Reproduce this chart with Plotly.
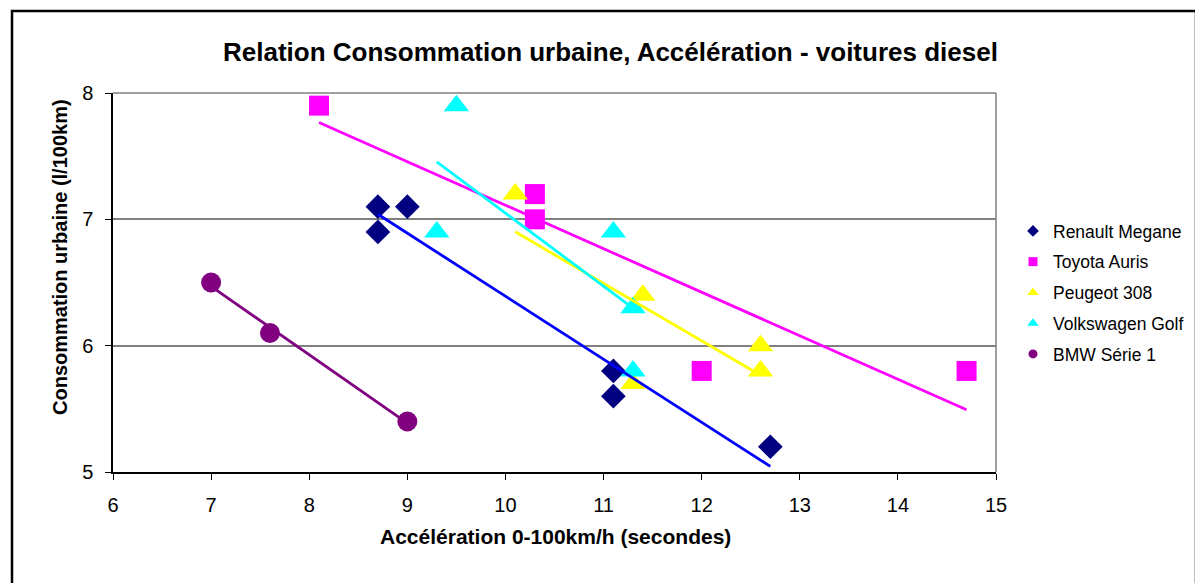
import numpy as np
import plotly.graph_objects as go

# Data
series_names = ["Renault Megane", "Toyota Auris", "Peugeot 308", "Volkswagen Golf", "BMW Série 1"]
renault_x = [8.7, 8.7, 9.0, 11.1, 11.1, 12.7]
renault_y = [7.1, 6.9, 7.1, 5.8, 5.6, 5.2]
toyota_x = [8.1, 10.3, 10.3, 12.0, 14.7]
toyota_y = [7.9, 7.2, 7.0, 5.8, 5.8]
peugeot_x = [10.1, 11.4, 11.3, 12.6, 12.6]
peugeot_y = [7.2, 6.4, 5.7, 6.0, 5.8]
golf_x = [9.5, 9.3, 11.1, 11.3, 11.3]
golf_y = [7.9, 6.9, 6.9, 6.3, 5.8]
bmw_x = [7.0, 7.6, 9.0]
bmw_y = [6.5, 6.1, 5.4]
x_ticks = [6, 7, 8, 9, 10, 11, 12, 13, 14, 15]
y_ticks = [5, 6, 7, 8]

# Styles
marker_colors = ["#000080", "#FF00FF", "#FFFF00", "#00FFFF", "#800080"]
trend_colors = ["#0000FF", "#FF00FF", "#FFFF00", "#00FFFF", "#800080"]
symbols = ["diamond", "square", "triangle-up", "triangle-up", "circle"]
sizes = [19, 20, 22, 22, 20]
legend_sizes = [9, 9, 10, 10, 9]

data = [(renault_x, renault_y), (toyota_x, toyota_y), (peugeot_x, peugeot_y),
        (golf_x, golf_y), (bmw_x, bmw_y)]

FONT = "Arial, Liberation Sans, sans-serif"
fig = go.Figure()

for i, (xs, ys) in enumerate(data):
    fig.add_trace(go.Scatter(
        x=xs, y=ys, mode="markers", name=series_names[i], showlegend=False,
        marker=dict(symbol=symbols[i], size=sizes[i], color=marker_colors[i],
                    line=dict(width=0)),
        cliponaxis=False,
    ))

for i, (xs, ys) in enumerate(data):
    slope, intercept = np.polyfit(xs, ys, 1)
    tx = [min(xs), max(xs)]
    ty = [slope * v + intercept for v in tx]
    fig.add_trace(go.Scatter(
        x=tx, y=ty, mode="lines", showlegend=False, hoverinfo="skip",
        line=dict(color=trend_colors[i], width=2.8),
    ))

for i in range(len(series_names)):
    fig.add_trace(go.Scatter(
        x=[None], y=[None], mode="markers", name=series_names[i],
        legendgroup=f"g{i}",
        marker=dict(symbol=symbols[i], size=legend_sizes[i], color=marker_colors[i],
                    line=dict(width=0)),
    ))

# Page body has an 8px margin: compensate so the plot area lands where intended.
OFF = 8
PL, PT, PR, PB = 113, 93, 996, 472   # absolute plot-area box
W, H = 1203, 583
pw, ph = PR - PL, PB - PT


def px(X):
    return (X - PL) / pw


def py(Y):
    return (PB - Y) / ph


fig.update_layout(
    width=W - OFF, height=H - OFF,
    margin=dict(l=PL - OFF, r=W - PR, t=PT - OFF, b=H - PB, pad=0),
    paper_bgcolor="white", plot_bgcolor="white",
    font=dict(family=FONT, color="black", size=18),
    xaxis=dict(range=[6, 15], tickvals=x_ticks, ticks="outside", ticklen=6, tickcolor="black",
               showline=True, linecolor="black", linewidth=1.5, mirror=False,
               showgrid=False, zeroline=False, ticklabelstandoff=8,
               tickfont=dict(size=20, family=FONT, color="black")),
    yaxis=dict(range=[5, 8], tickvals=y_ticks, ticks="outside", ticklen=6, tickcolor="black",
               showline=True, linecolor="black", linewidth=1.5,
               showgrid=True, gridcolor="#808080", gridwidth=1.5, zeroline=False,
               ticklabelstandoff=8, tickfont=dict(size=20, family=FONT, color="black")),
    legend=dict(x=px(1013), xanchor="left", y=py(213), yanchor="top",
                font=dict(size=17.5, family=FONT), bgcolor="rgba(0,0,0,0)",
                itemwidth=30, tracegroupgap=5),
    annotations=[
        dict(text="<b>Relation Consommation urbaine, Accélération - voitures diesel</b>",
             xref="paper", yref="paper", x=px(610), y=py(52), xanchor="center",
             yanchor="middle", showarrow=False, font=dict(size=26, family=FONT)),
        dict(text="<b>Accélération 0-100km/h (secondes)</b>",
             xref="paper", yref="paper", x=px(555), y=py(536), xanchor="center",
             yanchor="middle", showarrow=False, font=dict(size=21, family=FONT)),
        dict(text="<b>Consommation urbaine (l/100km)</b>", textangle=-90,
             xref="paper", yref="paper", x=px(60), y=py(257), xanchor="center",
             yanchor="middle", showarrow=False, font=dict(size=20, family=FONT)),
    ],
    shapes=[
        dict(type="line", xref="paper", yref="paper", x0=0, x1=1, y0=1, y1=1,
             line=dict(color="#808080", width=1.5)),
        dict(type="line", xref="paper", yref="paper", x0=1, x1=1, y0=0, y1=1,
             line=dict(color="#808080", width=1.5)),
        dict(type="rect", xref="paper", yref="paper",
             x0=px(12), x1=px(1196), y0=py(620), y1=py(11),
             line=dict(color="black", width=2.5), fillcolor="rgba(0,0,0,0)", layer="above"),
    ],
)

fig.write_html("out.html")
